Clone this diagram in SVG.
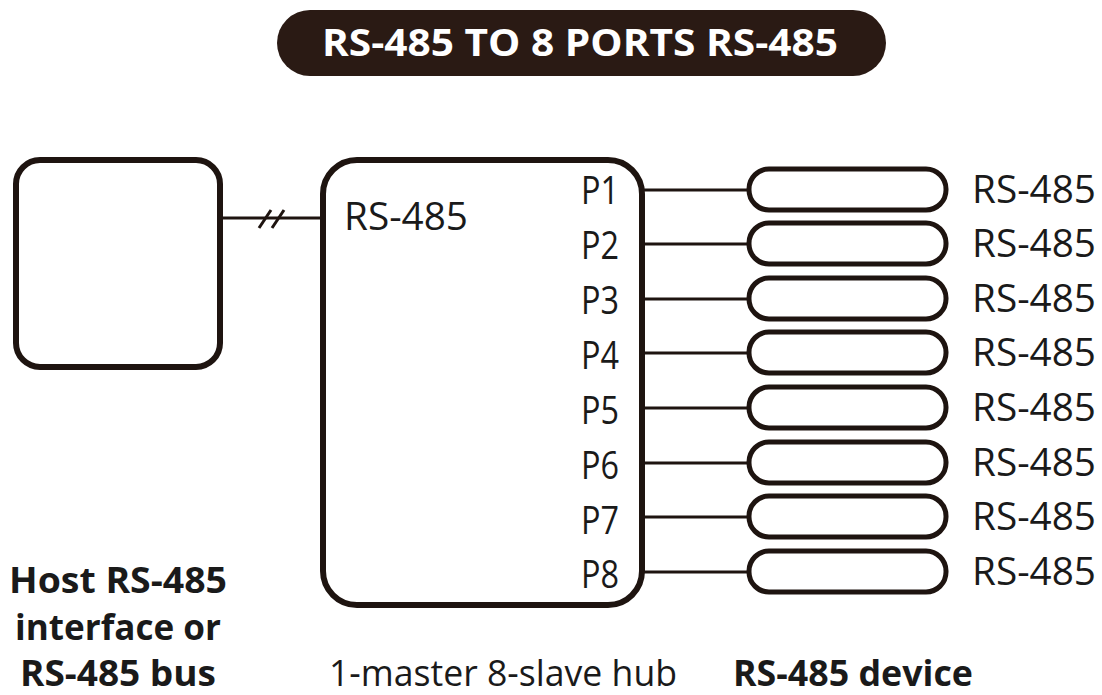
<svg xmlns="http://www.w3.org/2000/svg" width="1102" height="695" viewBox="0 0 1102 695">
<style>
.box{fill:#fff;stroke:#1e1410;stroke-width:6}
.pill{fill:#fff;stroke:#1e1410;stroke-width:5}
.ln{stroke:#1e1410;stroke-width:3;fill:none}
.t{font-family:"Open Sans","Noto Sans",sans-serif;fill:#1a1a1a}
.reg{font-size:36px}
.big{font-size:38px}
.lbl{font-size:36px;font-weight:bold}
</style>
<rect width="1102" height="695" fill="#fff"/>
<g id="title">
<rect x="277" y="10" width="609" height="66" rx="33" fill="#2a1a14"/>
<text class="t" x="580" y="56" text-anchor="middle" font-size="38" font-weight="bold" style="fill:#fff" textLength="516" lengthAdjust="spacingAndGlyphs">RS-485 TO 8 PORTS RS-485</text>
</g>
<g id="host">
<rect class="box" x="16" y="160" width="204" height="207" rx="24"/>
<text class="t lbl" x="118" y="593" text-anchor="middle" textLength="218" lengthAdjust="spacingAndGlyphs">Host RS-485</text>
<text class="t lbl" x="118" y="640" text-anchor="middle" textLength="206" lengthAdjust="spacingAndGlyphs">interface or</text>
<text class="t lbl" x="118" y="686" text-anchor="middle" textLength="196" lengthAdjust="spacingAndGlyphs">RS-485 bus</text>
</g>
<g id="hub">
<rect class="box" x="323" y="160" width="319" height="445" rx="34"/>
<text class="t big" x="344" y="230" textLength="124" lengthAdjust="spacingAndGlyphs">RS-485</text>
<g class="t big" text-anchor="end">
<text x="619" y="204" textLength="38" lengthAdjust="spacingAndGlyphs">P1</text>
<text x="619" y="259" textLength="38" lengthAdjust="spacingAndGlyphs">P2</text>
<text x="619" y="314" textLength="38" lengthAdjust="spacingAndGlyphs">P3</text>
<text x="619" y="369" textLength="38" lengthAdjust="spacingAndGlyphs">P4</text>
<text x="619" y="424" textLength="38" lengthAdjust="spacingAndGlyphs">P5</text>
<text x="619" y="479" textLength="38" lengthAdjust="spacingAndGlyphs">P6</text>
<text x="619" y="534" textLength="38" lengthAdjust="spacingAndGlyphs">P7</text>
<text x="619" y="588" textLength="38" lengthAdjust="spacingAndGlyphs">P8</text>
</g>
<text class="t reg" x="503" y="686" text-anchor="middle" textLength="348" lengthAdjust="spacingAndGlyphs">1-master 8-slave hub</text>
</g>
<g id="connectors">
<line class="ln" x1="221" y1="218" x2="322" y2="218"/>
<line class="ln" x1="259" y1="228" x2="271" y2="210"/>
<line class="ln" x1="272" y1="228" x2="284" y2="210"/>
<line class="ln" x1="642" y1="190" x2="749" y2="190"/>
<line class="ln" x1="642" y1="244" x2="749" y2="244"/>
<line class="ln" x1="642" y1="299" x2="749" y2="299"/>
<line class="ln" x1="642" y1="353" x2="749" y2="353"/>
<line class="ln" x1="642" y1="408" x2="749" y2="408"/>
<line class="ln" x1="642" y1="463" x2="749" y2="463"/>
<line class="ln" x1="642" y1="517" x2="749" y2="517"/>
<line class="ln" x1="642" y1="572" x2="749" y2="572"/>
</g>
<g id="devices">
<rect class="pill" x="749" y="169" width="197" height="41" rx="20"/>
<rect class="pill" x="749" y="223" width="197" height="41" rx="20"/>
<rect class="pill" x="749" y="278" width="197" height="41" rx="20"/>
<rect class="pill" x="749" y="332" width="197" height="41" rx="20"/>
<rect class="pill" x="749" y="387" width="197" height="41" rx="20"/>
<rect class="pill" x="749" y="442" width="197" height="41" rx="20"/>
<rect class="pill" x="749" y="496" width="197" height="41" rx="20"/>
<rect class="pill" x="749" y="551" width="197" height="41" rx="20"/>
<g class="t big">
<text x="972" y="203" textLength="124" lengthAdjust="spacingAndGlyphs">RS-485</text>
<text x="972" y="257" textLength="124" lengthAdjust="spacingAndGlyphs">RS-485</text>
<text x="972" y="312" textLength="124" lengthAdjust="spacingAndGlyphs">RS-485</text>
<text x="972" y="366" textLength="124" lengthAdjust="spacingAndGlyphs">RS-485</text>
<text x="972" y="421" textLength="124" lengthAdjust="spacingAndGlyphs">RS-485</text>
<text x="972" y="476" textLength="124" lengthAdjust="spacingAndGlyphs">RS-485</text>
<text x="972" y="530" textLength="124" lengthAdjust="spacingAndGlyphs">RS-485</text>
<text x="972" y="585" textLength="124" lengthAdjust="spacingAndGlyphs">RS-485</text>
</g>
<text class="t lbl" x="853" y="686" text-anchor="middle" textLength="240" lengthAdjust="spacingAndGlyphs">RS-485 device</text>
</g>
</svg>
